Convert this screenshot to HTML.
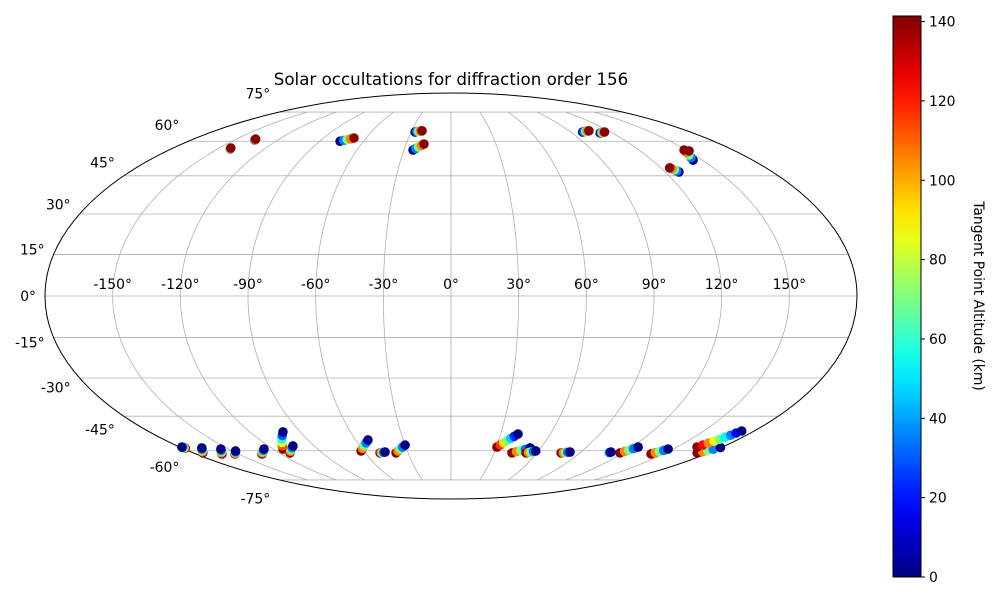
<!DOCTYPE html>
<html><head><meta charset="utf-8"><style>
html,body{margin:0;padding:0;background:#fff}
svg{display:block;font-family:"DejaVu Sans","Liberation Sans",sans-serif}
</style></head><body>
<svg id="chart" width="1000" height="600" viewBox="0 0 1000 600">
<text x="451" y="85" font-size="16.7" text-anchor="middle">Solar occultations for diffraction order 156</text>
<g id="grid"></g>
<g id="pts"></g>
<g id="labels"></g>
<g id="cbar"></g>
</svg>
<script>
const latTicks=[-75,-60,-45,-30,-15,0,15,30,45,60,75];
const lonTicks=[-150,-120,-90,-60,-30,0,30,60,90,120,150];
const cbarTicks=[0,20,40,60,80,100,120,140];
const altMax=141.4;
const trackLon=[
[-142,-142.2,-142.4,-142.5,-142.6],
[-136,-136.2,-136.3,-136.4,-136.5],
[-76,-74.1,-72.2,-70.4,-68.5],
[-27,-25.8,-24.6,-23.3,-22.1],
[-24.2,-22.7,-21.2,-19.6,-18.1],
[99,100.6,102.1,103.7,105.2],
[110.9,112,113.2,114.3,115.5],
[144.5,145.5,146.6,147.6,148.7],
[150.9],
[127.7,127,126.4,125.7,125],
[-178,-178.2,-178.4,-178.5,-178.6],
[-173.4,-171.7,-170,-168.3,-166.6],
[-161.7,-160.1,-158.5,-156.9,-155.3],
[-152.5,-151.4,-150.2,-149.1,-147.9],
[-133.4,-131.6,-129.8,-128,-126.2],
[-113.4,-110.8,-108.2,-105.5,-102.9,-100.3],
[-112.5,-110.4,-108.3,-106.1,-104],
[-61.7,-59.3,-57,-54.6,-52.2],
[-49.6,-48.6,-47.7,-46.7,-45.7],
[-38.4,-36.3,-34.2,-32.1,-30],
[30.5,32.2,33.8,35.5,37.2,38.8,40.5],
[42.6,45.2,47.8,50.3,52.9],
[52.4,53.9,55.3,56.8,58.2],
[76.9,78.3,79.7,81.1,82.5],
[110.4,110.6,110.9],
[118.1,119.6,121.2,122.7,124.2],
[141.2,142.5,143.9,145.2,146.5],
[172,173.8,175.5,177.3,179.5],
[163.3,164.5,165.6,166.8,168,169.1,170.3,171.4,172.6]
];
const trackLat=[
[56.5,56.6,56.7,56.8,56.9],
[60.6,60.7,60.8,60.9,61],
[60,60.4,60.8,61.1,61.5],
[64.4,64.6,64.7,64.9,65],
[56,56.7,57.4,58,58.7],
[64.4,64.6,64.7,64.9,65],
[63.9,64,64.2,64.3,64.4],
[51.6,52.7,53.8,54.9,56],
[55.6],
[46.6,47,47.5,47.9,48.3],
[-58.8,-58.7,-58.6,-58.4,-58.3],
[-61,-60.4,-59.9,-59.3,-58.7],
[-61.5,-60.9,-60.4,-59.8,-59.2],
[-61.5,-61.2,-60.8,-60.5,-60.1],
[-61.5,-60.9,-60.4,-59.8,-59.2],
[-59.2,-57.7,-56.2,-54.6,-53.1,-51.6],
[-61,-60.2,-59.4,-58.6,-57.8],
[-60.1,-58.9,-57.6,-56.4,-55.1],
[-61,-60.9,-60.8,-60.7,-60.6],
[-61,-60.1,-59.2,-58.3,-57.4],
[-58.3,-57.3,-56.4,-55.4,-54.4,-53.5,-52.5],
[-61,-60.4,-59.9,-59.3,-58.7],
[-61,-60.8,-60.6,-60.3,-60.1],
[-61,-60.9,-60.8,-60.7,-60.6],
[-60.9,-60.7,-60.6],
[-61,-60.3,-59.7,-59,-58.3],
[-61.5,-60.9,-60.4,-59.8,-59.2],
[-61,-60.4,-59.9,-59.3,-58.5],
[-58.3,-57.4,-56.5,-55.6,-54.8,-53.9,-53,-52.1,-51.2]
];
const up5=[0,35,70,105,140], dn5=[140,105,70,35,0];
const trackAlt=[
up5,up5,up5,up5,up5,up5,up5,up5,[140],up5,
dn5,dn5,dn5,dn5,dn5,
[140,112,84,56,28,0],
dn5,dn5,dn5,dn5,
[140,117,93,70,47,23,0],
dn5,dn5,dn5,[40,20,0],dn5,dn5,dn5,
[140,122.5,105,87.5,70,52.5,35,17.5,0]
];

const NS='http://www.w3.org/2000/svg';
const CX=451,CY=296,A=406,B=203;
function theta(lat){const p=Math.PI*Math.sin(lat*Math.PI/180);if(Math.abs(lat)>=90)return Math.sign(lat)*Math.PI/2;let t=lat*Math.PI/180;for(let i=0;i<50;i++){t-= (2*t+Math.sin(2*t)-p)/(2+2*Math.cos(2*t));}return t;}
function proj(lon,lat){const t=theta(lat);return [CX+A*(lon/180)*Math.cos(t),CY-B*Math.sin(t)];}
function jet(v){const t=Math.max(0,Math.min(1,v/altMax));const c=x=>Math.round(255*Math.max(0,Math.min(1,1.5-Math.abs(4*t-x))));return `rgb(${c(3)},${c(2)},${c(1)})`;}
function mk(tag,attrs,parent){const e=document.createElementNS(NS,tag);for(const k in attrs)e.setAttribute(k,attrs[k]);parent.appendChild(e);return e;}

const grid=document.getElementById('grid');
latTicks.forEach(la=>{const a=proj(-180,la),b=proj(180,la);
 const l=mk('line',{x1:a[0],y1:a[1],x2:b[0],y2:b[1],stroke:'#b0b0b0','stroke-width':0.8},grid);
 
 });
lonTicks.forEach(lo=>{let d='';for(let la=-75;la<=75;la+=1){const p=proj(lo,la);d+=(la===-75?'M':'L')+p[0].toFixed(2)+','+p[1].toFixed(2);}
 const m=mk('path',{d:d,fill:'none',stroke:'#b0b0b0','stroke-width':0.8},grid);
 
 });
const ell=mk('ellipse',{cx:CX,cy:CY,rx:A,ry:B,fill:'none',stroke:'#000','stroke-width':1},grid);



const pts=document.getElementById('pts');
trackLon.forEach((lons,i)=>{lons.forEach((lo,j)=>{const p=proj(lo,trackLat[i][j]);
 const c=mk('circle',{cx:p[0],cy:p[1],r:4.8,fill:jet(trackAlt[i][j])},pts);
 
 });});

const lab=document.getElementById('labels');
lonTicks.forEach(lo=>{const x=CX+A*lo/180;
 const t=mk('text',{x:x,y:289,'font-size':13.9,'text-anchor':'middle'},lab);t.textContent=lo+'°';
 
 });
latTicks.forEach(la=>{const p=proj(-180,la);const y=p[1]-19*Math.sin(la*Math.PI/180);
 const t=mk('text',{x:p[0]-9,y:y+5,'font-size':13.9,'text-anchor':'end'},lab);t.textContent=la+'°';
 
 });

const cb=document.getElementById('cbar');
const X0=893,W=28,Y0=16,Y1=577;
const defs=mk('defs',{},cb);
const g=mk('linearGradient',{id:'jetg',x1:0,y1:1,x2:0,y2:0},defs);
for(let k=0;k<=20;k++){mk('stop',{offset:k/20,'stop-color':jet(k/20*altMax)},g);}
const r=mk('rect',{x:X0,y:Y0,width:W,height:Y1-Y0,fill:'url(#jetg)',stroke:'#000','stroke-width':1},cb);


const ys=v=>Y1-v/altMax*(Y1-Y0);
cbarTicks.forEach(v=>{const y=ys(v);
 const tk=mk('line',{x1:X0+W,x2:X0+W+4,y1:y,y2:y,stroke:'#000','stroke-width':1},cb);
 
 
 const t=mk('text',{x:X0+W+8,y:y+5,'font-size':13.9},cb);t.textContent=v;
 
 });
const ct=mk('text',{x:0,y:0,'font-size':13.9,'text-anchor':'middle',transform:'translate(974,296) rotate(90)'},cb);
ct.textContent='Tangent Point Altitude (km)';


</script>
</body></html>
